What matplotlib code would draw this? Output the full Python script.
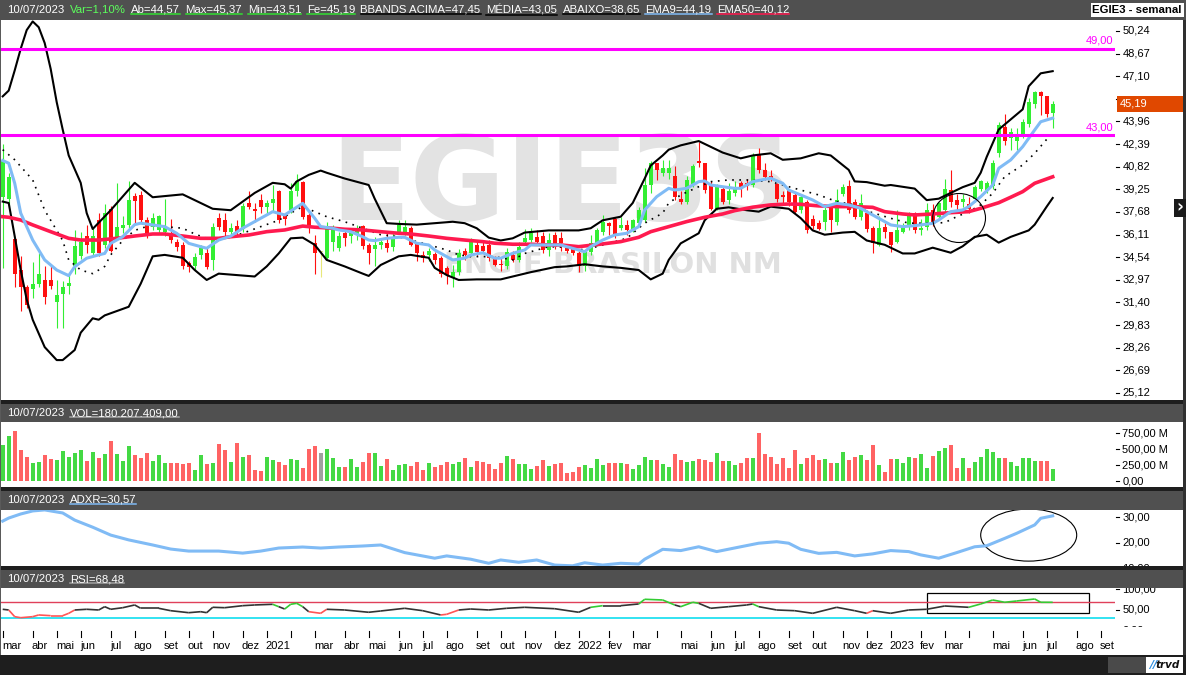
import numpy as np
import pandas as pd
import matplotlib
matplotlib.use('Agg')
import matplotlib.pyplot as plt
import matplotlib.transforms as mtransforms
from matplotlib.patches import Rectangle, Ellipse
from matplotlib.lines import Line2D
from matplotlib.collections import LineCollection
from matplotlib import font_manager

# ---------------------------- fonte ----------------------------
nomes = {f.name for f in font_manager.fontManager.ttflist}
if 'Liberation Sans Narrow' in nomes:
    FONTE, FS, FSH = 'Liberation Sans Narrow', 9.4, 9.8
else:
    FONTE, FS, FSH = 'Liberation Sans', 8.0, 8.2
plt.rcParams['font.family'] = [FONTE, 'DejaVu Sans']

# ---------------------------- dados ----------------------------
# EGIE3 semanal, uma vela por semana a partir de 02/03/2020
opens = [38.7, 38.6, 35.8, 33.65, 32.5, 32.3, 32.7, 32.96, 32.96, 31.45,
         32.0, 32.55, 33.9, 34.6, 36.0, 34.8, 37.1, 35.4, 37.9, 35.97,
         36.55, 36.8, 38.8, 38.85, 37.1, 36.66, 36.43, 36.3, 36.2, 35.6,
         35.4, 34.12, 33.93, 34.7, 34.81, 34.35, 37.24, 37.1, 36.3, 36.7,
         36.5, 38.3, 37.85, 38.5, 38.0, 38.3, 39.1, 37.4, 37.8, 39.1,
         39.78, 37.47, 35.5, 34.9, 34.5, 35.6, 35.2, 36.2, 36.0, 36.1,
         36.7, 35.4, 35.1, 35.4, 35.5, 35.27, 36.3, 36.3, 36.6, 35.5,
         34.7, 34.7, 34.76, 34.5, 33.8, 33.1, 33.5, 34.95, 34.8, 35.4,
         35.3, 35.4, 34.5, 34.1, 33.9, 34.7, 34.35, 35.6, 35.75, 35.97,
         36.0, 35.04, 36.1, 35.9, 35.16, 35.2, 34.8, 33.9, 34.9, 35.5,
         36.3, 36.9, 37.2, 36.6, 36.8, 36.4, 36.9, 37.1, 39.55, 41.05,
         40.4, 40.4, 40.2, 38.6, 38.4, 39.6, 41.2, 41.05, 39.65, 37.9,
         39.3, 38.5, 39.0, 39.7, 39.7, 39.55, 41.6, 40.6, 40.2, 39.6,
         38.85, 39.2, 38.85, 37.8, 38.4, 37.2, 36.9, 37.0, 38.0, 37.0,
         38.95, 39.5, 38.4, 37.35, 37.6, 36.6, 35.4, 36.65, 36.3, 35.6,
         36.3, 36.65, 37.6, 36.4, 36.65, 37.8, 37.35, 37.8, 39.2, 38.5,
         38.4, 38.2, 38.6, 39.3, 39.2, 39.5, 41.75, 43.6, 42.8, 42.6,
         43.0, 43.8, 45.2, 46.0, 45.7, 44.57]
highs = [42.4, 40.4, 35.9, 34.6, 32.6, 34.2, 34.8, 33.9, 33.9, 32.96,
         32.9, 33.4, 36.4, 36.3, 36.8, 36.6, 37.6, 38.2, 38.1, 39.7,
         37.4, 39.8, 39.0, 39.1, 37.3, 37.6, 37.5, 38.6, 37.2, 35.8,
         35.6, 34.3, 34.8, 35.4, 35.27, 36.9, 37.6, 37.6, 36.9, 37.1,
         38.3, 39.1, 38.3, 38.9, 38.5, 39.55, 39.2, 37.6, 39.67, 40.3,
         39.8, 37.6, 36.1, 35.0, 37.0, 36.8, 36.3, 36.6, 36.6, 36.8,
         36.8, 35.5, 35.97, 35.8, 36.2, 36.2, 37.1, 37.1, 36.7, 35.6,
         35.0, 35.2, 34.9, 34.6, 33.9, 34.0, 35.1, 35.2, 35.9, 35.7,
         35.6, 35.7, 34.6, 34.5, 35.2, 35.0, 35.6, 36.5, 36.55, 36.4,
         36.3, 36.2, 36.3, 36.3, 35.4, 35.4, 35.0, 35.0, 36.1, 36.6,
         37.5, 37.0, 37.3, 37.35, 37.1, 37.2, 38.0, 40.7, 41.2, 41.1,
         41.3, 41.3, 40.9, 39.1, 40.2, 41.0, 42.5, 41.1, 39.8, 39.6,
         39.5, 39.7, 39.8, 39.8, 40.0, 41.8, 42.1, 41.1, 40.6, 39.7,
         39.1, 39.3, 39.0, 38.9, 38.5, 37.5, 37.1, 38.0, 38.1, 39.3,
         39.6, 39.9, 38.6, 38.9, 37.8, 36.7, 37.4, 36.9, 36.3, 37.8,
         36.9, 37.7, 37.7, 37.2, 38.3, 38.2, 38.4, 40.0, 40.6, 38.9,
         38.9, 38.7, 39.55, 39.9, 39.8, 41.3, 43.9, 44.5, 43.5, 43.5,
         44.1, 45.6, 46.1, 46.1, 45.7, 45.37]
lows = [33.8, 38.0, 32.5, 30.8, 31.0, 31.7, 32.5, 31.3, 32.3, 29.6,
        29.6, 32.0, 33.4, 34.4, 34.8, 34.6, 34.6, 35.2, 34.9, 35.8,
        36.2, 36.6, 36.9, 36.9, 35.9, 36.4, 36.2, 36.0, 35.5, 35.0,
        33.7, 33.5, 33.65, 34.4, 33.7, 33.65, 36.4, 36.0, 36.0, 36.0,
        36.3, 37.9, 37.0, 37.6, 37.5, 37.7, 36.9, 36.8, 37.6, 38.8,
        37.2, 36.2, 33.4, 33.2, 34.4, 35.0, 35.0, 35.3, 35.5, 35.7,
        35.1, 34.1, 33.9, 35.1, 34.9, 35.0, 36.2, 36.1, 35.3, 34.3,
        34.2, 34.3, 34.1, 33.2, 32.7, 32.5, 33.3, 34.35, 34.6, 34.6,
        34.8, 34.3, 33.9, 33.6, 33.7, 34.2, 34.2, 35.4, 35.6, 35.4,
        34.8, 34.6, 35.1, 35.0, 34.8, 34.7, 33.5, 33.6, 34.7, 35.3,
        36.1, 36.1, 35.9, 36.4, 36.1, 36.3, 36.8, 37.0, 39.0, 39.9,
        40.2, 40.0, 38.5, 38.2, 38.2, 39.4, 40.8, 39.0, 37.8, 37.8,
        38.2, 38.2, 38.8, 38.7, 39.2, 39.4, 40.4, 39.9, 39.8, 38.4,
        38.3, 38.1, 37.6, 37.6, 36.2, 36.5, 36.4, 36.4, 36.3, 36.8,
        38.8, 37.6, 37.2, 37.1, 36.3, 34.8, 35.3, 35.85, 34.9, 35.5,
        36.2, 36.4, 36.2, 36.1, 36.4, 36.7, 37.2, 37.6, 38.0, 37.6,
        38.0, 37.6, 38.4, 39.1, 39.0, 39.3, 41.5, 42.3, 42.0, 42.0,
        42.8, 43.6, 44.9, 44.4, 44.3, 43.51]
closes = [41.3, 40.1, 33.4, 32.5, 31.2, 32.7, 33.4, 31.8, 32.55, 31.9,
          32.5, 32.73, 35.3, 35.6, 35.4, 36.0, 34.8, 37.6, 35.0, 36.66,
          36.8, 38.5, 38.45, 37.1, 36.2, 37.24, 37.4, 36.55, 35.74, 35.27,
          33.9, 33.84, 34.58, 35.16, 33.84, 36.66, 36.66, 36.3, 36.55, 36.3,
          38.1, 38.05, 37.75, 38.05, 38.3, 38.55, 37.1, 37.2, 39.1, 39.8,
          37.35, 36.55, 34.8, 34.9, 36.5, 36.4, 36.0, 35.85, 36.2, 36.4,
          35.3, 34.8, 35.4, 35.6, 35.16, 35.85, 36.8, 36.66, 35.4, 34.8,
          34.5, 35.0, 34.35, 33.4, 33.3, 33.5, 34.8, 34.7, 35.6, 34.9,
          35.0, 34.5, 34.0, 34.0, 34.9, 34.35, 35.27, 35.85, 36.2, 35.62,
          35.04, 35.74, 35.27, 35.5, 34.95, 34.8, 33.9, 34.9, 35.5, 36.4,
          37.0, 36.7, 36.1, 36.8, 36.4, 37.1, 37.8, 39.55, 41.05, 40.6,
          40.7, 40.7, 38.7, 38.4, 39.9, 40.9, 41.05, 39.2, 37.9, 39.4,
          38.4, 39.1, 39.4, 39.4, 39.5, 41.6, 40.6, 40.1, 40.0, 38.6,
          38.75, 38.4, 37.7, 38.7, 36.4, 36.7, 36.5, 37.8, 37.1, 38.5,
          39.4, 37.8, 37.35, 38.3, 36.5, 35.5, 36.55, 36.3, 35.4, 36.4,
          36.65, 37.5, 36.4, 36.55, 37.8, 36.9, 38.3, 39.3, 38.4, 38.15,
          38.6, 37.9, 39.4, 39.8, 39.7, 41.1, 43.7, 42.6, 43.25, 43.0,
          43.95, 45.3, 46.0, 45.7, 44.5, 45.19]
# volume em milhões
volume_m = [562, 703, 781, 484, 370, 286, 297, 406, 344, 328,
            469, 375, 437, 484, 312, 453, 359, 422, 625, 422,
            312, 547, 406, 359, 437, 312, 406, 281, 281, 281,
            266, 281, 172, 406, 266, 281, 578, 484, 297, 594,
            375, 406, 172, 156, 375, 328, 297, 250, 344, 328,
            203, 500, 547, 437, 500, 359, 219, 219, 344, 219,
            297, 437, 437, 234, 344, 172, 250, 266, 234, 297,
            172, 281, 219, 250, 297, 266, 297, 359, 219, 312,
            297, 266, 188, 281, 391, 344, 266, 266, 188, 234,
            328, 234, 266, 281, 125, 141, 219, 250, 203, 344,
            250, 281, 281, 281, 266, 188, 250, 375, 328, 328,
            266, 219, 422, 328, 297, 312, 336, 328, 297, 437,
            320, 320, 250, 281, 359, 359, 750, 422, 375, 266,
            359, 203, 484, 266, 359, 406, 328, 344, 281, 281,
            453, 328, 375, 406, 328, 562, 250, 141, 344, 344,
            281, 375, 359, 422, 203, 391, 469, 516, 562, 203,
            359, 203, 297, 375, 500, 453, 359, 359, 297, 234,
            359, 359, 312, 312, 312, 180]

# indicadores (semana, valor)
bb_upper = [(0, 45.7), (1, 46.1), (2, 47.5), (3, 49.0), (4, 50.3), (5, 50.9), (6, 50.5), (7, 49.4),
            (8, 47.6), (9, 45.3), (10, 43.4), (11, 41.6), (13, 39.7), (14, 37.6), (15, 36.5), (18, 37.8),
            (22, 39.7), (25, 38.7), (30, 38.9), (35, 37.9), (38, 37.8), (42, 39.0), (45, 39.7), (47, 39.6),
            (48, 39.3), (49, 39.8), (51, 40.25), (53, 40.55), (54, 40.4), (57, 40.0), (61, 39.55), (62, 38.6),
            (64, 36.9), (66, 36.85), (69, 36.8), (72, 36.9), (75, 37.0), (77, 36.9), (79, 36.55), (81, 35.9),
            (83, 35.7), (85, 35.85), (87, 36.25), (91, 36.4), (96, 36.4), (98, 36.55), (100, 37.1), (103, 37.35),
            (105, 38.3), (107, 40.0), (108, 40.9), (110, 41.6), (111, 42.0), (113, 42.3), (116, 42.6), (118, 42.2),
            (120, 41.8), (123, 41.4), (125, 41.6), (128, 41.75), (130, 41.3), (133, 41.4), (136, 41.75), (138, 41.6),
            (141, 40.6), (142, 39.8), (144, 39.75), (147, 39.5), (148, 39.55), (152, 39.3), (154, 38.5), (156, 38.6),
            (158, 39.0), (160, 39.4), (162, 39.7), (163, 40.4), (164, 41.5), (166, 43.4), (168, 44.1), (170, 44.8),
            (171, 46.4), (173, 47.3), (175, 47.45)]
bb_lower = [(0, 38.4), (1, 38.3), (2, 36.0), (3, 33.65), (4, 31.6), (5, 30.2), (7, 28.3), (9, 27.4),
            (10, 27.4), (12, 28.1), (13, 29.3), (15, 30.3), (16, 30.2), (17, 30.5), (19, 30.8), (21, 31.1),
            (23, 32.7), (25, 34.6), (27, 34.7), (30, 34.5), (32, 33.65), (34, 32.96), (36, 33.4), (39, 33.3),
            (42, 33.2), (44, 33.9), (46, 34.8), (48, 35.85), (50, 35.9), (52, 35.4), (54, 34.35), (57, 33.9),
            (60, 33.4), (61, 33.24), (63, 34.0), (66, 34.6), (68, 34.7), (71, 34.5), (72, 33.8), (74, 33.3),
            (76, 32.96), (79, 33.0), (83, 33.0), (85, 33.2), (88, 33.5), (92, 33.85), (94, 33.9), (97, 34.05),
            (100, 33.9), (103, 33.8), (106, 33.65), (108, 33.0), (110, 33.4), (111, 34.35), (113, 35.5), (116, 36.2),
            (117, 37.1), (119, 37.9), (121, 38.0), (124, 37.8), (126, 37.7), (128, 38.05), (131, 37.9), (133, 37.25),
            (135, 36.4), (137, 36.1), (140, 36.25), (142, 36.3), (144, 35.7), (147, 35.4), (150, 34.8), (152, 34.8),
            (155, 35.2), (158, 34.85), (160, 35.3), (162, 35.95), (164, 36.1), (166, 35.55), (168, 35.95), (171, 36.4),
            (172, 36.8), (174, 38.05), (175, 38.65)]
bb_media = [(0, 42.0), (2, 41.3), (5, 39.9), (7, 37.8), (10, 35.7), (11, 34.35), (13, 33.65), (15, 33.4),
            (17, 33.9), (18, 34.7), (20, 35.7), (22, 36.4), (25, 36.8), (27, 36.66), (30, 36.55), (32, 36.15),
            (34, 35.85), (36, 35.73), (40, 36.2), (43, 36.66), (46, 37.1), (48, 37.6), (50, 38.05), (52, 37.7),
            (54, 37.35), (57, 37.0), (60, 36.55), (63, 36.1), (66, 35.96), (68, 35.73), (71, 35.4), (74, 35.04),
            (76, 34.7), (78, 34.58), (82, 34.58), (85, 34.35), (87, 34.8), (91, 35.27), (94, 35.23), (96, 35.04),
            (98, 35.16), (101, 35.5), (104, 35.85), (107, 36.9), (110, 37.6), (111, 38.3), (113, 38.86), (116, 39.43),
            (118, 39.78), (121, 39.9), (124, 39.9), (128, 39.78), (130, 39.55), (133, 39.2), (136, 38.86), (139, 38.4),
            (142, 38.17), (144, 37.75), (148, 37.24), (151, 36.9), (155, 36.9), (157, 36.94), (159, 37.35), (161, 37.7),
            (163, 38.17), (165, 38.98), (167, 40.13), (170, 40.94), (172, 41.75), (174, 42.72), (175, 43.05)]
ema9 = [(0, 41.25), (1, 41.06), (2, 39.67), (3, 37.6), (5, 35.73), (7, 34.35), (9, 33.65), (11, 33.26),
        (12, 33.88), (14, 34.47), (16, 34.7), (17, 34.8), (18, 35.5), (20, 35.96), (22, 36.8), (23, 36.9),
        (25, 36.78), (27, 36.66), (29, 36.2), (31, 35.5), (33, 35.27), (34, 35.16), (36, 35.73), (38, 36.0),
        (40, 36.55), (43, 37.24), (45, 37.7), (47, 37.47), (50, 38.28), (52, 37.24), (53, 36.66), (55, 36.55),
        (56, 36.43), (58, 36.31), (60, 35.96), (61, 35.73), (62, 35.69), (64, 35.85), (66, 35.92), (67, 35.92),
        (69, 35.51), (71, 35.39), (72, 35.04), (74, 34.58), (75, 34.35), (77, 34.47), (78, 34.69), (80, 34.85),
        (82, 34.47), (83, 34.47), (85, 34.81), (87, 35.04), (88, 35.39), (91, 35.39), (93, 35.39), (94, 35.27),
        (97, 34.92), (98, 35.27), (100, 35.73), (102, 36.08), (104, 36.2), (106, 36.66), (107, 37.82), (109, 38.74),
        (111, 39.32), (112, 39.2), (114, 39.32), (116, 39.78), (117, 39.83), (118, 39.55), (120, 39.43), (122, 39.32),
        (123, 39.32), (125, 39.78), (127, 39.95), (128, 40.02), (130, 39.67), (131, 39.2), (133, 38.86), (135, 38.51),
        (137, 38.05), (139, 38.28), (141, 38.17), (143, 37.93), (146, 37.24), (148, 36.78), (150, 36.66), (152, 36.73),
        (155, 36.89), (156, 37.12), (158, 37.7), (160, 37.82), (161, 38.05), (163, 38.74), (165, 39.55), (166, 40.71),
        (168, 41.29), (170, 42.21), (172, 43.37), (173, 43.94), (175, 44.19)]
ema50 = [(0, 37.35), (1, 37.31), (3, 37.12), (5, 36.78), (8, 36.31), (11, 35.85), (13, 35.73), (16, 35.73),
         (19, 35.85), (22, 36.01), (25, 36.15), (27, 36.15), (30, 36.01), (33, 35.85), (36, 35.85), (38, 35.96),
         (41, 36.08), (44, 36.31), (47, 36.43), (50, 36.7), (52, 36.62), (55, 36.55), (57, 36.48), (60, 36.43),
         (63, 36.31), (66, 36.2), (68, 36.15), (71, 36.01), (74, 35.85), (77, 35.73), (80, 35.62), (82, 35.51),
         (85, 35.44), (88, 35.44), (91, 35.39), (93, 35.39), (96, 35.27), (100, 35.46), (103, 35.62), (106, 35.92),
         (108, 36.31), (111, 36.66), (114, 37.01), (117, 37.31), (120, 37.54), (122, 37.77), (125, 38.01), (128, 38.17),
         (131, 38.23), (133, 38.21), (136, 38.1), (139, 38.05), (142, 38.05), (145, 38.0), (147, 37.7), (150, 37.54),
         (152, 37.47), (155, 37.54), (158, 37.63), (161, 37.7), (163, 37.93), (166, 38.32), (168, 38.7), (170, 39.09),
         (172, 39.67), (175, 40.12)]
adxr = [(0, 28.5), (1, 29.7), (3, 31.3), (5, 32.5), (7, 32.9), (10, 31.7), (12, 28.9), (15, 26.1),
        (18, 23.0), (21, 21.1), (25, 19.1), (28, 17.5), (31, 16.7), (36, 16.7), (40, 15.9), (43, 16.7),
        (46, 17.9), (50, 18.3), (53, 17.9), (56, 18.3), (60, 18.7), (63, 19.1), (67, 16.1), (72, 13.9),
        (74, 14.8), (78, 13.5), (81, 11.9), (83, 13.2), (86, 12.3), (89, 13.2), (92, 11.2), (95, 10.9),
        (97, 12.1), (100, 11.2), (103, 11.9), (106, 11.6), (107, 13.5), (110, 17.4), (113, 16.9), (116, 18.4),
        (119, 16.5), (123, 18.4), (126, 19.8), (129, 20.4), (131, 19.8), (133, 17.4), (136, 15.8), (139, 16.2),
        (142, 14.8), (145, 15.6), (148, 16.9), (151, 16.5), (153, 15.2), (156, 13.9), (159, 16.1), (162, 18.4),
        (164, 18.8), (167, 21.7), (169, 23.7), (172, 27.0), (173, 29.6), (175, 30.57)]
# RSI (semana, valor, cor do trecho: k normal, g sobrecompra, r sobrevenda)
rsi = [(0, 51.7, 'k'), (1, 50.0, 'r'), (2, 33.9, 'r'), (3, 31.4, 'r'), (5, 33.9, 'r'), (6, 38.0, 'r'),
       (8, 36.3, 'r'), (10, 36.3, 'r'), (11, 42.0, 'r'), (12, 50.0, 'k'), (14, 51.7, 'k'), (16, 50.0, 'k'),
       (17, 58.0, 'k'), (18, 51.7, 'k'), (20, 55.5, 'k'), (22, 62.1, 'k'), (23, 54.1, 'k'), (26, 54.1, 'k'),
       (28, 48.3, 'k'), (31, 43.5, 'k'), (33, 45.9, 'k'), (34, 43.5, 'k'), (35, 56.5, 'k'), (37, 55.5, 'k'),
       (40, 60.4, 'k'), (42, 62.1, 'k'), (45, 63.7, 'g'), (46, 58.0, 'k'), (47, 52.4, 'g'), (48, 63.7, 'g'),
       (49, 66.1, 'g'), (50, 58.0, 'k'), (51, 45.9, 'r'), (53, 42.0, 'r'), (54, 51.7, 'k'), (57, 50.0, 'k'),
       (61, 44.5, 'k'), (63, 47.6, 'k'), (67, 54.1, 'k'), (70, 48.3, 'k'), (73, 38.0, 'r'), (74, 39.6, 'r'),
       (76, 50.0, 'k'), (78, 52.4, 'k'), (81, 50.0, 'k'), (84, 54.1, 'k'), (87, 56.5, 'k'), (92, 53.1, 'k'),
       (96, 44.5, 'k'), (98, 56.5, 'g'), (100, 60.4, 'k'), (103, 60.4, 'k'), (106, 64.5, 'g'), (107, 75.8, 'g'),
       (110, 74.1, 'g'), (112, 62.1, 'k'), (113, 58.0, 'g'), (115, 68.6, 'g'), (116, 66.1, 'k'), (118, 54.1, 'k'),
       (121, 58.0, 'k'), (124, 62.1, 'k'), (125, 64.5, 'g'), (126, 58.0, 'k'), (129, 50.0, 'k'), (132, 48.3, 'k'),
       (135, 42.0, 'k'), (139, 56.5, 'k'), (142, 48.3, 'k'), (144, 42.0, 'r'), (145, 48.3, 'k'), (148, 42.0, 'k'),
       (151, 50.0, 'k'), (154, 51.7, 'k'), (157, 59.6, 'k'), (161, 56.5, 'g'), (163, 64.5, 'g'), (165, 74.1, 'g'),
       (167, 68.6, 'g'), (169, 71.7, 'g'), (172, 76.5, 'g'), (173, 68.6, 'g'), (175, 68.48, 'g')]

niveis = [49.0, 43.0]
ultimo = 45.19
precos_tick = [25.12, 26.69, 28.26, 29.83, 31.40, 32.97, 34.54, 36.11, 37.68, 39.25,
               40.82, 42.39, 43.96, 45.53, 47.10, 48.67, 50.24]
meses = ['jan', 'fev', 'mar', 'abr', 'mai', 'jun', 'jul', 'ago', 'set', 'out', 'nov', 'dez']
sem_rotulo = ['2021-02', '2022-04', '2023-04']

cabecalho = [('10/07/2023', 'white', None), ('Var=1,10%', '#5cff5c', None),
             ('Ab=44,57', 'white', '#33dd33'), ('Max=45,37', 'white', '#33dd33'),
             ('Min=43,51', 'white', '#33dd33'), ('Fe=45,19', 'white', '#33dd33'),
             ('BBANDS ACIMA=47,45', 'white', 'black'), ('MÉDIA=43,05', 'white', 'black'),
             ('ABAIXO=38,65', 'white', 'black'), ('EMA9=44,19', 'white', '#80bbf5'),
             ('EMA50=40,12', 'white', '#ff1a4f')]

# ---------------------------- layout ----------------------------
W, H = 1186, 675
fig = plt.figure(figsize=(W / 100, H / 100), dpi=100)
fig.patch.set_facecolor('white')
renderer = fig.canvas.get_renderer()


def caixa(x0, y0, x1, y1):
    return [x0 / W, 1 - y1 / H, (x1 - x0) / W, (y1 - y0) / H]


def faixa(x0, y0, x1, y1, cor, z=1):
    fig.add_artist(Rectangle((x0 / W, 1 - y1 / H), (x1 - x0) / W, (y1 - y0) / H,
                             transform=fig.transFigure, facecolor=cor, edgecolor='none', zorder=z))


def px2i(px):
    return (px - 2.7) / 6.0


def nova_ax(y0, y1, x1=1115):
    ax = fig.add_axes(caixa(0, y0, x1, y1))
    ax.set_xlim(px2i(0), px2i(x1))
    for s in ax.spines.values():
        s.set_visible(False)
    ax.set_xticks([])
    ax.set_yticks([])
    ax.set_facecolor('white')
    return ax


ax_p = nova_ax(20, 400)
ax_v = nova_ax(422, 487)
ax_a = nova_ax(510, 566)
ax_r = nova_ax(588, 627)
ax_x = nova_ax(627, 655, x1=1183)

ax_p.set_ylim(24.63, 51.0)
ax_v.set_ylim(-93.75, 921.9)
ax_a.set_ylim(10.83, 32.87)
ax_r.set_ylim(9.0, 103.0)


def marcas(ax, vals, rot, pular=()):
    tr = mtransforms.blended_transform_factory(ax.transAxes, ax.transData)
    for v, s in zip(vals, rot):
        ax.plot([1.0007, 1.0038], [v, v], color='black', lw=0.8, transform=tr, clip_on=False)
        if v in pular:
            continue
        ax.text(1.0066, v, s, transform=tr, ha='left', va='center', fontsize=FS,
                color='black', clip_on=False)


def br(v):
    return f'{v:.2f}'.replace('.', ',')


def serie(pares):
    i, v = zip(*pares)
    return np.array(i), np.array(v)


# ---------------------------- preço ----------------------------
ax_p.text(0.504, 0.558, 'EGIE3S', transform=ax_p.transAxes, ha='center', va='center',
          fontsize=84, fontweight='bold', family='DejaVu Sans', color='#e3e3e3', zorder=0.5)
ax_p.text(0.550, 0.355, 'ENGIE BRASILON NM', transform=ax_p.transAxes, ha='center', va='center',
          fontsize=21, fontweight='bold', family='DejaVu Sans', color='#e0e0e0', zorder=0.5)

x = np.arange(len(closes))
o, h, l, c = map(np.array, (opens, highs, lows, closes))
cor_vela = np.where(c > o, '#33ee33', np.where(c < o, '#ff1010', '#e8e87a'))
ax_p.vlines(x, l, h, colors=cor_vela, lw=0.8, zorder=2)
alt = np.abs(c - o)
alt[alt < 0.06] = 0.06
ax_p.bar(x, alt, bottom=np.minimum(o, c), width=0.67, color=cor_vela, linewidth=0, zorder=2)

for pares in (bb_upper, bb_lower):
    ax_p.plot(*serie(pares), color='black', lw=1.5, zorder=3)
ax_p.plot(*serie(bb_media), color='black', lw=1.2, ls=(0, (1, 3.3)), zorder=3)
ax_p.plot(*serie(ema50), color='#ff1a4f', lw=2.6, zorder=4)
ax_p.plot(*serie(ema9), color='#80bbf5', lw=2.2, zorder=4)

trp = mtransforms.blended_transform_factory(ax_p.transAxes, ax_p.transData)
for nv in niveis:
    ax_p.axhline(nv, color='#ff00ff', lw=2.2, zorder=5)
    ax_p.text(1113 / 1115, nv + 0.35, br(nv), transform=trp, ha='right', va='baseline',
              fontsize=FS, color='#ff00ff', zorder=5)
ax_p.add_patch(Ellipse((159.4, 37.26), 8.8, 3.4, fill=False, ec='black', lw=0.8, zorder=6))

# o rótulo 45,53 fica escondido atrás da caixa do último preço
marcas(ax_p, precos_tick, [br(v) for v in precos_tick], pular=(45.53,))
ax_p.add_patch(Rectangle((1117 / 1115, ultimo - 0.55), 69 / 1115, 1.1, transform=trp,
                         facecolor='#e04800', edgecolor='none', clip_on=False, zorder=10))
ax_p.text(1120 / 1115, ultimo, br(ultimo), transform=trp, ha='left', va='center',
          fontsize=FS, color='white', clip_on=False, zorder=11)

# ---------------------------- volume ----------------------------
cor_vol = np.where(c > o, '#44d944', np.where(c < o, '#ff6363', '#a0a0a0'))
ax_v.bar(x, volume_m, width=0.67, color=cor_vol, linewidth=0)
marcas(ax_v, [0, 250, 500, 750], ['0,00', '250,00 M', '500,00 M', '750,00 M'])

# ---------------------------- ADXR ----------------------------
ax_a.plot(*serie(adxr), color='#80bbf5', lw=2.2)
ax_a.add_patch(Ellipse((171.0, 23.0), 16.0, 20.5, fill=False, ec='black', lw=0.8))
marcas(ax_a, [10, 20, 30], ['10,00', '20,00', '30,00'])

# ---------------------------- RSI ----------------------------
ax_r.axhline(70, color='#e0405a', lw=1.0)
ax_r.axhline(30, color='#22e0f0', lw=1.3)
ri, rv, rc = zip(*rsi)
segs = [[(ri[k], rv[k]), (ri[k + 1], rv[k + 1])] for k in range(len(ri) - 1)]
mapa = {'k': '#333333', 'g': '#33cc33', 'r': '#ff5555'}
ax_r.add_collection(LineCollection(segs, colors=[mapa[s] for s in rc[:-1]], linewidths=1.2))
ax_r.add_patch(Rectangle((154, 42.0), 27, 48.2, fill=False, ec='black', lw=0.9))
marcas(ax_r, [0, 50, 100], ['0,00', '50,00', '100,00'])

# ---------------------------- eixo de datas ----------------------------
semanas = pd.date_range('2020-03-02', '2023-09-25', freq='W-MON')
primeira = pd.Series(np.arange(len(semanas)), index=semanas).groupby(semanas.to_period('M')).first()
trx = mtransforms.blended_transform_factory(ax_x.transData, ax_x.transAxes)
for per, i in primeira.items():
    ax_x.plot([i, i], [(655 - 631) / 28, (655 - 637) / 28], color='black', lw=0.8, transform=trx)
    if str(per) in sem_rotulo:
        continue
    rot = str(per.year) if per.month == 1 else meses[per.month - 1]
    ax_x.text(i - 0.15, (655 - 646) / 28, rot, transform=trx, ha='left', va='center',
              fontsize=FS, color='black')

# ---------------------------- molduras e cabeçalhos ----------------------------
faixa(0, 0, W, 20, '#505050')
faixa(0, 400, W, 404, '#1e1e1e')
faixa(0, 404, W, 422, '#505050')
faixa(0, 487, W, 491, '#1e1e1e')
faixa(0, 491, W, 510, '#505050')
faixa(0, 566, W, 570, '#1e1e1e')
faixa(0, 570, W, 588, '#505050')
faixa(0, 655, W, H, '#1e1e1e')
faixa(1108, 657, 1146, 673, '#4a4a4a')
faixa(1183, 20, W, 655, '#303030')
faixa(0, 20, 1.3, 655, '#5a5a5a')
faixa(1174, 199, W, 217, '#1a1a1a', z=2)
fig.text(1179.5 / W, 1 - 207.5 / H, '›', color='white', fontsize=12, fontweight='bold',
         ha='center', va='center', family='DejaVu Sans', zorder=3)
faixa(1146, 657, 1183, 673, 'white', z=2)
fig.text(1153 / W, 1 - 665 / H, '//', color='#2b8de0', fontsize=8, fontweight='bold',
         style='italic', ha='center', va='center', family='DejaVu Sans', zorder=3)
fig.text(1168 / W, 1 - 665 / H, 'trvd', color='#111111', fontsize=7.5, fontweight='bold',
         style='italic', ha='center', va='center', family='DejaVu Sans', zorder=3)


def linha_cab(y, itens, x0=7, gap=5.5):
    xx = x0
    em = FSH * 100 / 72
    for s, cor, sub in itens:
        t = fig.text(xx / W, 1 - y / H, s, color=cor, fontsize=FSH, ha='left', va='center', zorder=5)
        bb = t.get_window_extent(renderer)
        if sub:
            yy = (bb.y0 + 0.21 * em - 1.6) / H
            fig.add_artist(Line2D([bb.x0 / W, bb.x1 / W], [yy, yy], transform=fig.transFigure,
                                  color=sub, lw=1.1, zorder=5))
        xx = bb.x1 + gap


linha_cab(10, cabecalho)
linha_cab(413, [('10/07/2023', 'white', None), ('VOL=180.207.409,00', 'white', '#a8a8a8')])
linha_cab(500, [('10/07/2023', 'white', None), ('ADXR=30,57', 'white', '#80bbf5')])
linha_cab(579, [('10/07/2023', 'white', None), ('RSI=68,48', 'white', '#a0a0a0')])
fig.text(1182 / W, 1 - 10 / H, 'EGIE3 - semanal', color='black', fontsize=FSH, fontweight='bold',
         ha='right', va='center', zorder=5,
         bbox=dict(facecolor='white', edgecolor='none', pad=1.2))

fig.savefig('out.png', dpi=100)
